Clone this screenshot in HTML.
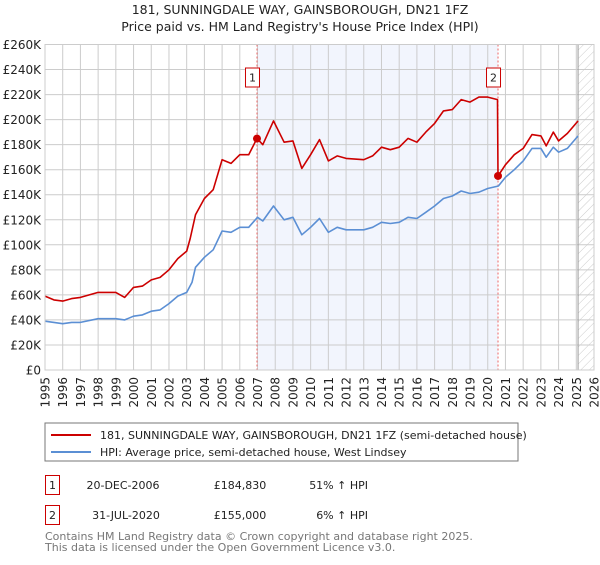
<!DOCTYPE html>
<html><head><meta charset="utf-8"><style>
body{margin:0;background:#fff;font-family:"Liberation Sans","DejaVu Sans",sans-serif;}
svg text{font-family:"DejaVu Sans","Liberation Sans",sans-serif;}
</style></head><body>
<svg id="c" width="600" height="560" viewBox="0 0 600 560">
<text x="300" y="14" text-anchor="middle" font-size="12.5" fill="#222">181, SUNNINGDALE WAY, GAINSBOROUGH, DN21 1FZ</text>
<text x="300" y="31" text-anchor="middle" font-size="12.5" fill="#222">Price paid vs. HM Land Registry's House Price Index (HPI)</text>
<g id="plot"></g>
<rect x="45" y="423" width="473" height="38" fill="#fff" stroke="#777"/>
<line x1="51" y1="435" x2="91" y2="435" stroke="#cc0000" stroke-width="2"/>
<text x="100" y="439" font-size="11" fill="#222">181, SUNNINGDALE WAY, GAINSBOROUGH, DN21 1FZ (semi-detached house)</text>
<line x1="51" y1="452" x2="91" y2="452" stroke="#5b8fd4" stroke-width="2"/>
<text x="100" y="456" font-size="11" fill="#222">HPI: Average price, semi-detached house, West Lindsey</text>
<g>
<rect x="45.5" y="475.5" width="14" height="19" fill="#fff" stroke="#cc0000"/>
<text x="52.5" y="489" text-anchor="middle" font-size="11" fill="#222">1</text>
<text x="123" y="489" text-anchor="middle" font-size="11" fill="#222">20-DEC-2006</text>
<text x="240" y="489" text-anchor="middle" font-size="11" fill="#222">£184,830</text>
<text x="368" y="489" text-anchor="end" font-size="11" fill="#222">51% ↑ HPI</text>
</g>
<g>
<rect x="45.5" y="505.5" width="14" height="19" fill="#fff" stroke="#cc0000"/>
<text x="52.5" y="519" text-anchor="middle" font-size="11" fill="#222">2</text>
<text x="126" y="519" text-anchor="middle" font-size="11" fill="#222">31-JUL-2020</text>
<text x="240" y="519" text-anchor="middle" font-size="11" fill="#222">£155,000</text>
<text x="368" y="519" text-anchor="end" font-size="11" fill="#222">6% ↑ HPI</text>
</g>
<text x="45" y="540" font-size="11" fill="#777">Contains HM Land Registry data © Crown copyright and database right 2025.</text>
<text x="45" y="551" font-size="11" fill="#777">This data is licensed under the Open Government Licence v3.0.</text>
</svg>
<script>
const yTicks=[0,20,40,60,80,100,120,140,160,180,200,220,240,260];
const years=[1995,1996,1997,1998,1999,2000,2001,2002,2003,2004,2005,2006,2007,2008,2009,2010,2011,2012,2013,2014,2015,2016,2017,2018,2019,2020,2021,2022,2023,2024,2025,2026];
const hpiT=[1995,1995.5,1996,1996.5,1997,1998,1998.5,1999,1999.5,2000,2000.5,2001,2001.5,2002,2002.5,2003,2003.3,2003.5,2004,2004.5,2005,2005.5,2006,2006.5,2007,2007.3,2007.9,2008.5,2009,2009.5,2010,2010.5,2011,2011.5,2012,2013,2013.5,2014,2014.5,2015,2015.5,2016,2016.5,2017,2017.5,2018,2018.5,2019,2019.5,2020,2020.6,2021,2021.5,2022,2022.5,2023,2023.3,2023.7,2024,2024.5,2025.1];
const hpiV=[39,38,37,38,38,41,41,41,40,43,44,47,48,53,59,62,70,82,90,96,111,110,114,114,122,119,131,120,122,108,114,121,110,114,112,112,114,118,117,118,122,121,126,131,137,139,143,141,142,145,147,154,160,167,177,177,170,178,174,177,187];
const redT=[1995,1995.5,1996,1996.5,1997,1998,1998.5,1999,1999.5,2000,2000.5,2001,2001.5,2002,2002.5,2003,2003.2,2003.5,2004,2004.5,2005,2005.5,2006,2006.5,2006.97,2007.3,2007.9,2008.5,2009,2009.5,2010,2010.5,2011,2011.5,2012,2013,2013.5,2014,2014.5,2015,2015.5,2016,2016.5,2017,2017.5,2018,2018.5,2019,2019.5,2020,2020.55,2020.58,2021,2021.5,2022,2022.5,2023,2023.3,2023.7,2024,2024.5,2025.1];
const redV=[59,56,55,57,58,62,62,62,58,66,67,72,74,80,89,95,105,124,137,144,168,165,172,172,185,180,199,182,183,161,172,184,167,171,169,168,171,178,176,178,185,182,190,197,207,208,216,214,218,218,216,155,164,172,177,188,187,179,190,183,189,199];
const saleT=[2006.97,2020.58];
const saleV=[184.83,155];
const saleLbl=["1","2"];
const X0=45,X1=594,Y0=370,Y1=44.5;
const x=t=>X0+(t-1995)/(2026-1995)*(X1-X0);
const y=v=>Y0-v/260*(Y0-Y1);
const g=document.getElementById('plot');
const NS='http://www.w3.org/2000/svg';
function mk(tag,a,p){const e=document.createElementNS(NS,tag);for(const k in a)e.setAttribute(k,a[k]);(p||g).appendChild(e);return e;}
let e;
e=mk('rect',{x:x(saleT[0]),y:Y1,width:x(saleT[1])-x(saleT[0]),height:Y0-Y1,fill:'#f2f5fd'});


const dEnd=2025.1;
const pat=mk('pattern',{id:'h',width:6,height:6,patternUnits:'userSpaceOnUse',patternTransform:'rotate(45)'},mk('defs',{}));
mk('line',{x1:0,y1:0,x2:0,y2:6,stroke:'#ccc','stroke-width':1},pat);
e=mk('rect',{x:x(dEnd),y:Y1,width:X1-x(dEnd),height:Y0-Y1,fill:'url(#h)'});


yTicks.forEach(v=>{
 e=mk('line',{x1:X0,x2:X1,y1:y(v),y2:y(v),stroke:'#ccc'});
 
 
 e=mk('text',{x:41,y:y(v)+4.5,'text-anchor':'end','font-size':12,fill:'#222'});
 e.textContent=v===0?'£0':'£'+v+'K';
 
 
});
years.forEach(t=>{
 e=mk('line',{x1:x(t),x2:x(t),y1:Y1,y2:Y0,stroke:'#ccc'});
 
 
 e=mk('text',{x:0,y:0,'font-size':12,fill:'#222','text-anchor':'end',transform:`translate(${x(t)+4.5},377) rotate(-90)`});
 e.textContent=t;
 
 
});
e=mk('line',{x1:x(dEnd),x2:x(dEnd),y1:Y1,y2:Y0,stroke:'#999'});


saleT.forEach((t,i)=>{
 e=mk('line',{x1:x(t),x2:x(t),y1:Y1,y2:Y0,stroke:'#e66','stroke-dasharray':'2,2'});
 
 
});
function line(T,V,col,name){
 e=mk('polyline',{points:T.map((t,i)=>x(t).toFixed(1)+','+y(V[i]).toFixed(1)).join(' '),fill:'none',stroke:col,'stroke-width':1.6,'stroke-linejoin':'round'});
 
 
}
line(hpiT,hpiV,'#5b8fd4','hpi-line');
line(redT,redV,'#cc0000','property-price-line');
saleT.forEach((t,i)=>{
 e=mk('circle',{cx:x(t),cy:y(saleV[i]),r:4,fill:'#cc0000'});
 
 
 e=mk('rect',{x:x(t)-11.5,y:68,width:14,height:19,fill:'#fff',stroke:'#cc0000'});
 
 
 e=mk('text',{x:x(t)-4.5,y:81.5,'text-anchor':'middle','font-size':11,fill:'#222'});
 e.textContent=saleLbl[i];
 
 
});
e=mk('rect',{x:X0,y:Y1,width:X1-X0,height:Y0-Y1,fill:'none',stroke:'#ccc'});


</script>
</body></html>
